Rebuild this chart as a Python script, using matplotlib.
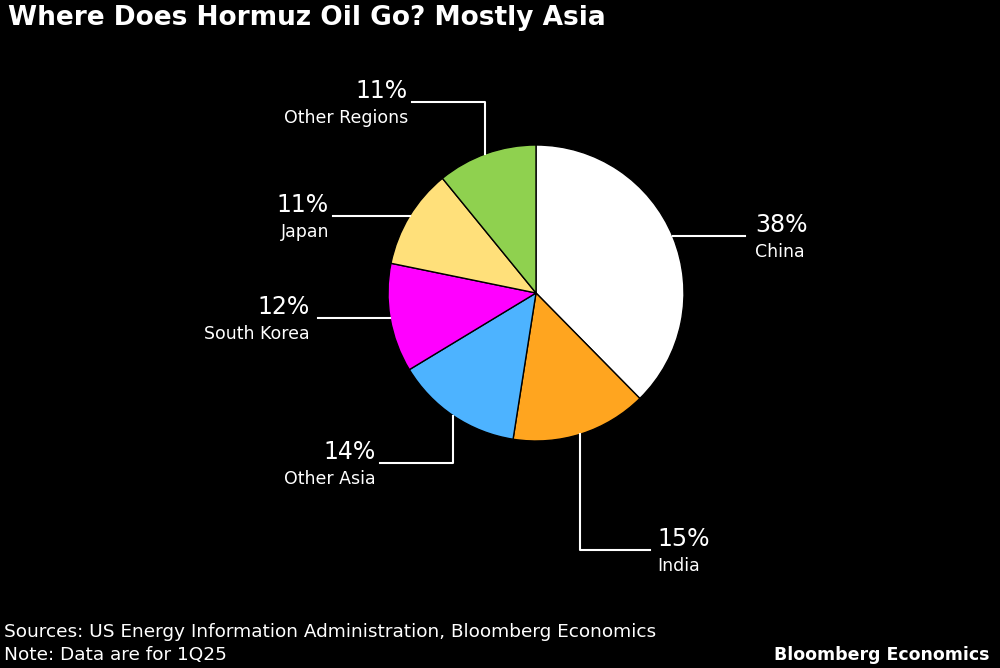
import matplotlib
matplotlib.use("Agg")
import matplotlib.pyplot as plt
import numpy as np

labels = ["China", "India", "Other Asia", "South Korea", "Japan", "Other Regions"]
values = [38, 15, 14, 12, 11, 11]
colors = ["#FFFFFF", "#FFA51F", "#4DB3FF", "#FF00FF", "#FFE07A", "#8FD14F"]

# label layout (pixels, y from top): elbow points and text anchor
layout = {
    "China":        dict(path=[(745, 236)], tx=755, ty=236, ha="left"),
    "India":        dict(path=[(580, 550), (650, 550)], tx=657, ty=550, ha="left"),
    "Other Asia":   dict(path=[(453, 463), (380, 463)], tx=376, ty=463, ha="right"),
    "South Korea":  dict(path=[(318, 318)], tx=310, ty=318, ha="right"),
    "Japan":        dict(path=[(333, 216)], tx=329, ty=216, ha="right"),
    "Other Regions":dict(path=[(485, 102), (412, 102)], tx=408, ty=102, ha="right"),
}

H = 668
fig = plt.figure(figsize=(10, 6.68), dpi=100, facecolor="black")
ax = fig.add_axes([0, 0, 1, 1])
ax.set_xlim(0, 1000); ax.set_ylim(0, H); ax.set_aspect("equal"); ax.axis("off")
ax.set_facecolor("black")

cx, cy, r = 536, 293, 148
wedges, _ = ax.pie(values, colors=colors, startangle=90, counterclock=False,
                   center=(cx, H - cy), radius=r,
                   wedgeprops=dict(edgecolor="black", linewidth=1))
ax.set_xlim(0, 1000); ax.set_ylim(0, H)

for w, lab, v in zip(wedges, labels, values):
    L = layout[lab]
    first = L["path"][0]
    if len(L["path"]) == 1:
        yy = H - first[1]
        dx = np.sqrt(max(r**2 - (yy - (H - cy))**2, 0))
        sx = cx + dx if first[0] > cx else cx - dx
        start = (sx, yy)
    else:
        xx = first[0]
        dy = np.sqrt(max(r**2 - (xx - cx)**2, 0))
        sy = (H - cy) + dy if first[1] < cy else (H - cy) - dy
        start = (xx, sy)
    pts = [start] + [(p[0], H - p[1]) for p in L["path"]]
    xs, ys = zip(*pts)
    ax.plot(xs, ys, color="white", lw=1.5)
    ty = H - L["ty"]
    ax.text(L["tx"], ty - 1, f"{v}%", color="white", fontsize=17, ha=L["ha"], va="bottom")
    ax.text(L["tx"], ty - 7, lab, color="white", fontsize=12.5, ha=L["ha"], va="top")

fig.text(0.008, 1 - 18 / H, "Where Does Hormuz Oil Go? Mostly Asia", color="white",
         fontsize=19, fontweight="bold", va="center", ha="left")
fig.text(0.004, 1 - 632 / H, "Sources: US Energy Information Administration, Bloomberg Economics",
         color="white", fontsize=13.3, va="center")
fig.text(0.004, 1 - 655 / H, "Note: Data are for 1Q25", color="white", fontsize=13.3, va="center")
fig.text(0.99, 1 - 655 / H, "Bloomberg Economics", color="white", fontsize=12.5,
         fontweight="bold", va="center", ha="right")

fig.savefig("out.png", dpi=100, facecolor="black")
